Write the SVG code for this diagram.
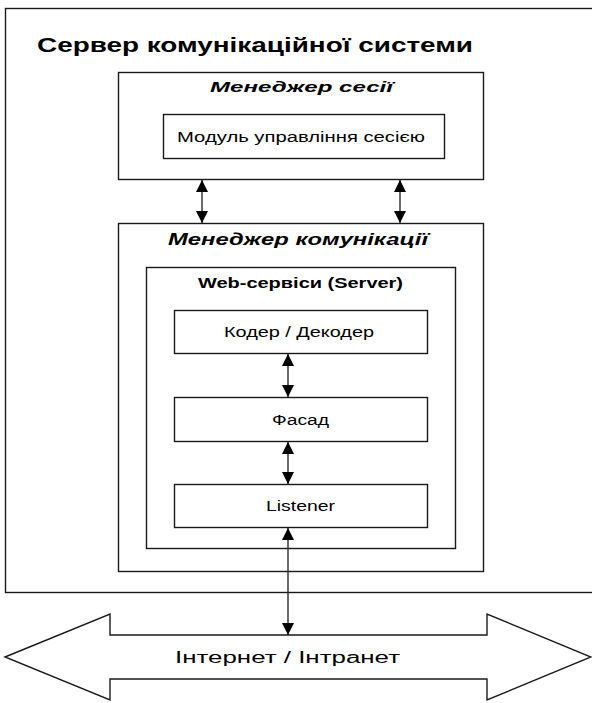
<svg xmlns="http://www.w3.org/2000/svg" width="592" height="703" viewBox="0 0 592 703">
  <defs>
    <style>
      .box { fill: #fff; stroke: #1a1a1a; stroke-width: 1.4; }
      .wire { fill: none; stroke: #1a1a1a; stroke-width: 1.3; }
      .t { font-family: "Liberation Sans", Arial, sans-serif; fill: #000; text-anchor: start; }
      .title { font-size: 20px; font-weight: bold; }
      .mgr { font-weight: bold; font-style: italic; }
      .lbl { font-size: 14px; }
    </style>
    <marker id="ah" viewBox="0 0 12 12" refX="12" refY="6" markerWidth="12" markerHeight="12" markerUnits="userSpaceOnUse" orient="auto-start-reverse">
      <path d="M0,0 L12,6 L0,12 Z" fill="#000"/>
    </marker>
  </defs>

  <g id="server">
    <rect class="box" x="5.5" y="8.5" width="600" height="584"/>
    <text class="t title" x="37" y="52" textLength="436" lengthAdjust="spacingAndGlyphs">Сервер комунікаційної системи</text>
  </g>

  <g id="session-manager">
    <rect class="box" x="118.5" y="72.5" width="365" height="107"/>
    <text class="t mgr" x="210" y="92" font-size="15" textLength="183" lengthAdjust="spacingAndGlyphs">Менеджер сесії</text>
  </g>

  <g id="session-module">
    <rect class="box" x="163.5" y="114.5" width="281" height="44"/>
    <text class="t lbl" x="177" y="142" textLength="248" lengthAdjust="spacingAndGlyphs">Модуль управління сесією</text>
  </g>

  <g id="comm-manager">
    <rect class="box" x="118.5" y="223.5" width="365" height="348"/>
    <text class="t mgr" x="168" y="245" font-size="17" textLength="260" lengthAdjust="spacingAndGlyphs">Менеджер комунікації</text>
  </g>

  <g id="web-services">
    <rect class="box" x="146.5" y="267.5" width="309" height="281"/>
    <text class="t lbl" x="198" y="288" font-weight="bold" textLength="205" lengthAdjust="spacingAndGlyphs">Web-сервіси (Server)</text>
  </g>

  <g id="coder">
    <rect class="box" x="174.5" y="310.5" width="253" height="43"/>
    <text class="t lbl" x="224" y="337" textLength="150" lengthAdjust="spacingAndGlyphs">Кодер / Декодер</text>
  </g>

  <g id="facade">
    <rect class="box" x="174.5" y="397.5" width="253" height="44"/>
    <text class="t lbl" x="272" y="425" textLength="57" lengthAdjust="spacingAndGlyphs">Фасад</text>
  </g>

  <g id="listener">
    <rect class="box" x="174.5" y="484.5" width="253" height="43"/>
    <text class="t lbl" x="266" y="511" textLength="69" lengthAdjust="spacingAndGlyphs">Listener</text>
  </g>

  <g id="network">
    <path class="box" d="M5,657 L110,614 L110,635 L487,635 L487,614 L591,657 L487,700 L487,679 L110,679 L110,700 Z"/>
    <text class="t" x="175" y="663" font-size="16" textLength="225" lengthAdjust="spacingAndGlyphs">Інтернет / Інтранет</text>
  </g>

  <g id="connectors">
    <line class="wire" x1="202" y1="180" x2="202" y2="223" marker-start="url(#ah)" marker-end="url(#ah)"/>
    <line class="wire" x1="400" y1="180" x2="400" y2="223" marker-start="url(#ah)" marker-end="url(#ah)"/>
    <line class="wire" x1="288" y1="354" x2="288" y2="397" marker-start="url(#ah)" marker-end="url(#ah)"/>
    <line class="wire" x1="288" y1="442" x2="288" y2="484" marker-start="url(#ah)" marker-end="url(#ah)"/>
    <line class="wire" x1="288" y1="528" x2="288" y2="635" marker-start="url(#ah)" marker-end="url(#ah)"/>
  </g>
</svg>
